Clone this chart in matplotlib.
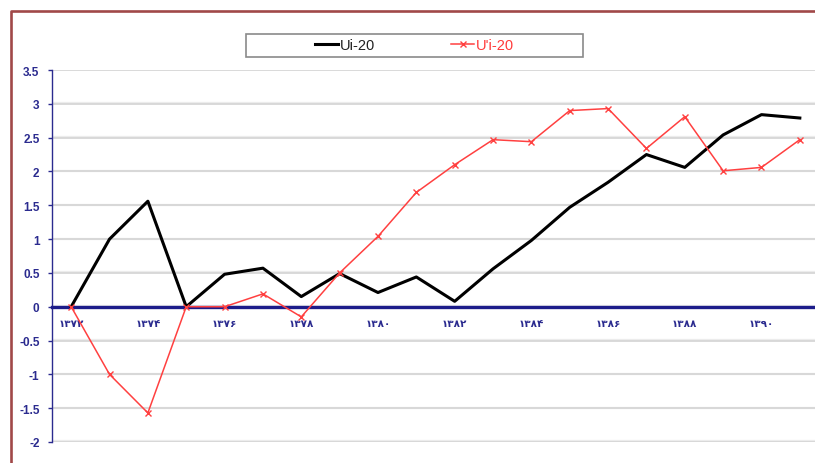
import matplotlib
matplotlib.use("Agg")
import matplotlib.pyplot as plt
from matplotlib.lines import Line2D
from matplotlib.patches import Rectangle

years = ['۱۳۷۲', '۱۳۷۳', '۱۳۷۴', '۱۳۷۵', '۱۳۷۶', '۱۳۷۷', '۱۳۷۸', '۱۳۷۹', '۱۳۸۰', '۱۳۸۱',
         '۱۳۸۲', '۱۳۸۳', '۱۳۸۴', '۱۳۸۵', '۱۳۸۶', '۱۳۸۷', '۱۳۸۸', '۱۳۸۹', '۱۳۹۰', '۱۳۹۱']
ui20 = [0, 1.0, 1.56, 0, 0.48, 0.57, 0.15, 0.49, 0.21, 0.44,
        0.08, 0.56, 0.98, 1.47, 1.84, 2.25, 2.06, 2.54, 2.84, 2.79]
upi20 = [0, -1.0, -1.57, 0, 0, 0.19, -0.15, 0.5, 1.04, 1.69,
         2.1, 2.47, 2.44, 2.9, 2.93, 2.34, 2.81, 2.01, 2.06, 2.47]
yticks = [-2, -1.5, -1, -0.5, 0, 0.5, 1, 1.5, 2, 2.5, 3, 3.5]
ytick_labels = ['-2', '-1.5', '-1', '-0.5', '0', '0.5', '1', '1.5', '2', '2.5', '3', '3.5']

W, H = 815, 464
fig = plt.figure(figsize=(W / 100, H / 100), dpi=100)
fig.patch.set_facecolor('white')

navy = '#2b2b8f'
ax = fig.add_axes([52 / W, (H - 443) / H, (819 - 52) / W, (443 - 71) / H])
x = list(range(len(years)))

for yv in yticks:
    ax.axhline(yv + 0.008, color='#ececec', lw=1.6, zorder=0)
    ax.axhline(yv, color='#d4d4d4', lw=1.2, zorder=0.5)

ax.plot(x, ui20, color='black', lw=2.2, label='Ui-20', zorder=3)
ax.plot(x, upi20, color='#ff4040', lw=1.1, marker='x', markersize=5,
        markeredgewidth=1.0, label="U'i-20", zorder=4)

ax.set_xlim(-0.5, 19.5)
ax.set_ylim(-2, 3.5)
ax.set_yticks(yticks)
ax.set_yticklabels(ytick_labels, fontsize=8.5, fontweight='bold',
                   color=navy, family=['Liberation Sans', 'DejaVu Sans'])
ax.tick_params(axis='y', direction='out', length=3, width=1, color=navy, pad=6)

ax.spines['top'].set_visible(False)
ax.spines['right'].set_visible(False)
ax.spines['left'].set_color(navy)
ax.spines['left'].set_linewidth(1.0)
ax.spines['bottom'].set_position(('data', 0))
ax.spines['bottom'].set_color('#1c1c8a')
ax.spines['bottom'].set_linewidth(2.4)
ax.spines['bottom'].set_zorder(2.5)

ax.set_xticks(x[::2])
ax.set_xticklabels(years[::2], fontsize=7.5, fontweight='bold', color=navy,
                   family=['DejaVu Sans'])
ax.tick_params(axis='x', length=0, pad=8)

# Legend box
fig.patches.append(Rectangle((246 / W, (H - 58) / H), 337 / W, 23 / H,
                             transform=fig.transFigure, facecolor='white',
                             edgecolor='#8a8a8a', lw=1.2, zorder=5))
leg = fig.legend(loc='center', bbox_to_anchor=(414.5 / W, (H - 46.5) / H),
                 ncol=2, frameon=False, handlelength=1.6, handletextpad=0.1,
                 columnspacing=5.2, prop={'family': 'Liberation Sans', 'size': 10.5})
leg.set_zorder(6)
for t, c in zip(leg.get_texts(), ['#222222', '#ff3b3b']):
    t.set_color(c)

# Outer dark-red frame
fig.lines.append(Line2D([11 / W, 11 / W, 1.0], [0, (H - 12) / H, (H - 12) / H],
                        transform=fig.transFigure, color='#a04848', lw=1.9))

fig.savefig('out.png', dpi=100)
